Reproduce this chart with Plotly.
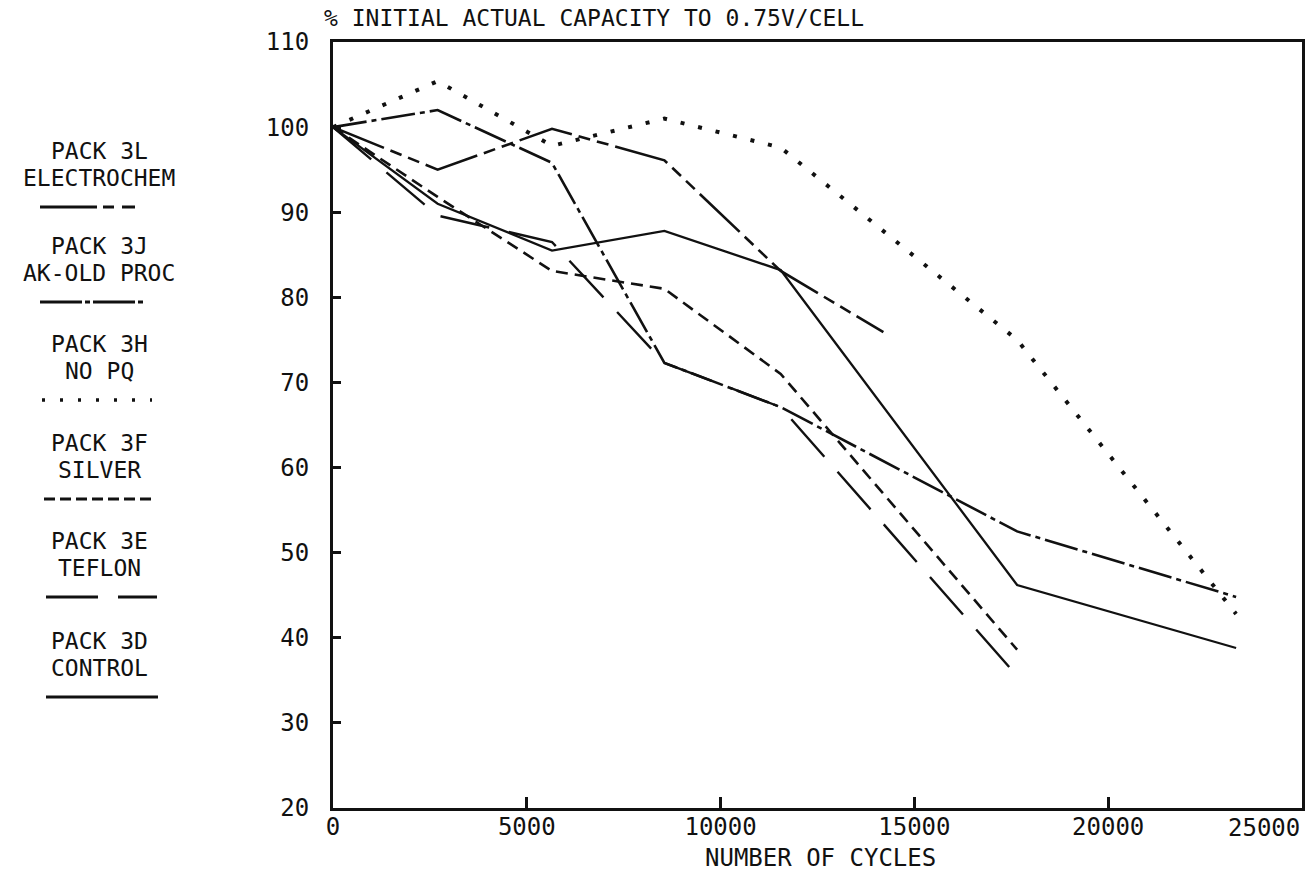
import plotly.graph_objects as go

# ---------------- data ----------------
control_x = [0, 2700, 5650, 8550, 11550, 17650, 23300]
control_y = [100, 91.0, 85.5, 87.8, 83.2, 46.2, 38.8]

teflon_x = [0, 2700, 5650, 8550, 11550, 17650]
teflon_y = [100, 89.6, 86.5, 72.3, 67.1, 35.5]

silver_x = [0, 2700, 5650, 8550, 11550, 17650]
silver_y = [100, 91.8, 83.1, 81.0, 71.0, 38.6]

nopq_x = [0, 2700, 5650, 8550, 11550, 17650, 23300]
nopq_y = [100, 105.4, 97.8, 101.0, 97.6, 75.0, 42.8]

akold_x = [0, 2700, 5650, 8550, 11550, 17650, 23300]
akold_y = [100, 102.0, 95.8, 72.3, 67.1, 52.5, 44.8]

electro_x = [0, 2700, 5650, 8550, 11550, 14200]
electro_y = [100, 95.0, 99.8, 96.1, 83.1, 75.9]

legend_titles = [
    ("PACK 3L", "ELECTROCHEM"),
    ("PACK 3J", "AK-OLD PROC"),
    ("PACK 3H", "NO PQ"),
    ("PACK 3F", "SILVER"),
    ("PACK 3E", "TEFLON"),
    ("PACK 3D", "CONTROL"),
]

x_tickvals = [0, 5000, 10000, 15000, 20000]
y_tickvals = [20, 30, 40, 50, 60, 70, 80, 90, 100, 110]

title_text = "% INITIAL ACTUAL CAPACITY TO 0.75V/CELL"
xlabel_text = "NUMBER OF CYCLES"

# ---------------- layout geometry ----------------
W, H = 1309, 878
L, R, T, B = 333, 7, 42, 70
PW, PH = W - L - R, H - T - B
FONT = "DejaVu Sans Mono"
BLACK = "#111111"


def px(xp):
    return (xp - L) / PW


def py(yp):
    return (H - B - yp) / PH


styles = {
    "ELECTROCHEM": dict(dash="55px,7px,12px,7px,12px,7px", width=2.6),
    "AK-OLD PROC": dict(dash="34px,5px,5px,5px", width=2.6),
    "NO PQ": dict(dash="4px,14px", width=4),
    "SILVER": dict(dash="12px,7px", width=2.6),
    "TEFLON": dict(dash="50px,20px", width=2.4),
    "CONTROL": dict(dash="solid", width=2.3),
}

series = [
    ("ELECTROCHEM", electro_x, electro_y),
    ("AK-OLD PROC", akold_x, akold_y),
    ("NO PQ", nopq_x, nopq_y),
    ("SILVER", silver_x, silver_y),
    ("TEFLON", teflon_x, teflon_y),
    ("CONTROL", control_x, control_y),
]

fig = go.Figure()
for name, xs, ys in series:
    st = styles[name]
    fig.add_trace(go.Scatter(
        x=xs, y=ys, mode="lines", name=name, showlegend=False,
        line=dict(color=BLACK, width=st["width"], dash=st["dash"]),
    ))

annotations = []
shapes = []

# title and axis label
annotations.append(dict(text=title_text, xref="paper", yref="paper",
                        x=px(322), y=py(18), xanchor="left", yanchor="middle",
                        showarrow=False, font=dict(family=FONT, size=23, color=BLACK)))
annotations.append(dict(text=xlabel_text, xref="paper", yref="paper",
                        x=px(820), y=py(858), xanchor="center", yanchor="middle",
                        showarrow=False, font=dict(family=FONT, size=24, color=BLACK)))
annotations.append(dict(text="25000", xref="x", yref="paper",
                        x=25000, y=py(828), xanchor="right", yanchor="middle",
                        showarrow=False, font=dict(family=FONT, size=24, color=BLACK)))

# hand-drawn style legend on the left
leg_tops = [151, 246, 344, 443, 541, 641]
leg_x0 = [40, 40, 42, 44, 46, 46]
leg_x1 = [135, 143, 152, 156, 157, 158]
leg_dash = {
    "ELECTROCHEM": "57px,6px,11px,8px,13px,40px",
    "AK-OLD PROC": "42px,3px,5px,3px",
    "NO PQ": "3px,15px",
    "SILVER": "11px,5px",
    "TEFLON": "52px,20px",
    "CONTROL": "solid",
}
for (l1, l2), top, x0, x1 in zip(legend_titles, leg_tops, leg_x0, leg_x1):
    annotations.append(dict(text=l1, xref="paper", yref="paper", x=px(99), y=py(top),
                            xanchor="center", yanchor="middle", showarrow=False,
                            font=dict(family=FONT, size=23, color=BLACK)))
    annotations.append(dict(text=l2, xref="paper", yref="paper", x=px(99), y=py(top + 27),
                            xanchor="center", yanchor="middle", showarrow=False,
                            font=dict(family=FONT, size=23, color=BLACK)))
    shapes.append(dict(type="line", xref="paper", yref="paper",
                       x0=px(x0), x1=px(x1), y0=py(top + 56), y1=py(top + 56),
                       line=dict(color=BLACK, width=3 if l2 != "NO PQ" else 3.5,
                                 dash=leg_dash[l2])))

fig.update_layout(
    width=W, height=H,
    margin=dict(l=L, r=R, t=T, b=B, autoexpand=False),
    paper_bgcolor="white", plot_bgcolor="white",
    showlegend=False,
    annotations=annotations, shapes=shapes,
    font=dict(family=FONT, size=24, color=BLACK),
)
fig.update_xaxes(
    range=[0, 25000], tickvals=x_tickvals, ticktext=[str(v) for v in x_tickvals],
    ticks="inside", ticklen=11, tickwidth=2.5, tickcolor=BLACK,
    showline=True, linewidth=3, linecolor=BLACK, mirror=True,
    showgrid=False, zeroline=False, automargin=False,
    tickfont=dict(family=FONT, size=24, color=BLACK), ticklabelstandoff=-5,
)
fig.update_yaxes(
    range=[20, 110], tickvals=y_tickvals, ticktext=[str(v) for v in y_tickvals],
    ticks="inside", ticklen=8, tickwidth=2.5, tickcolor=BLACK,
    showline=True, linewidth=3, linecolor=BLACK, mirror=True,
    showgrid=False, zeroline=False, automargin=False,
    tickfont=dict(family=FONT, size=24, color=BLACK), ticklabelstandoff=16,
)

fig.write_html("out.html", config={"displayModeBar": False},
               post_script="document.body.style.margin='0';document.body.style.overflow='hidden';")
